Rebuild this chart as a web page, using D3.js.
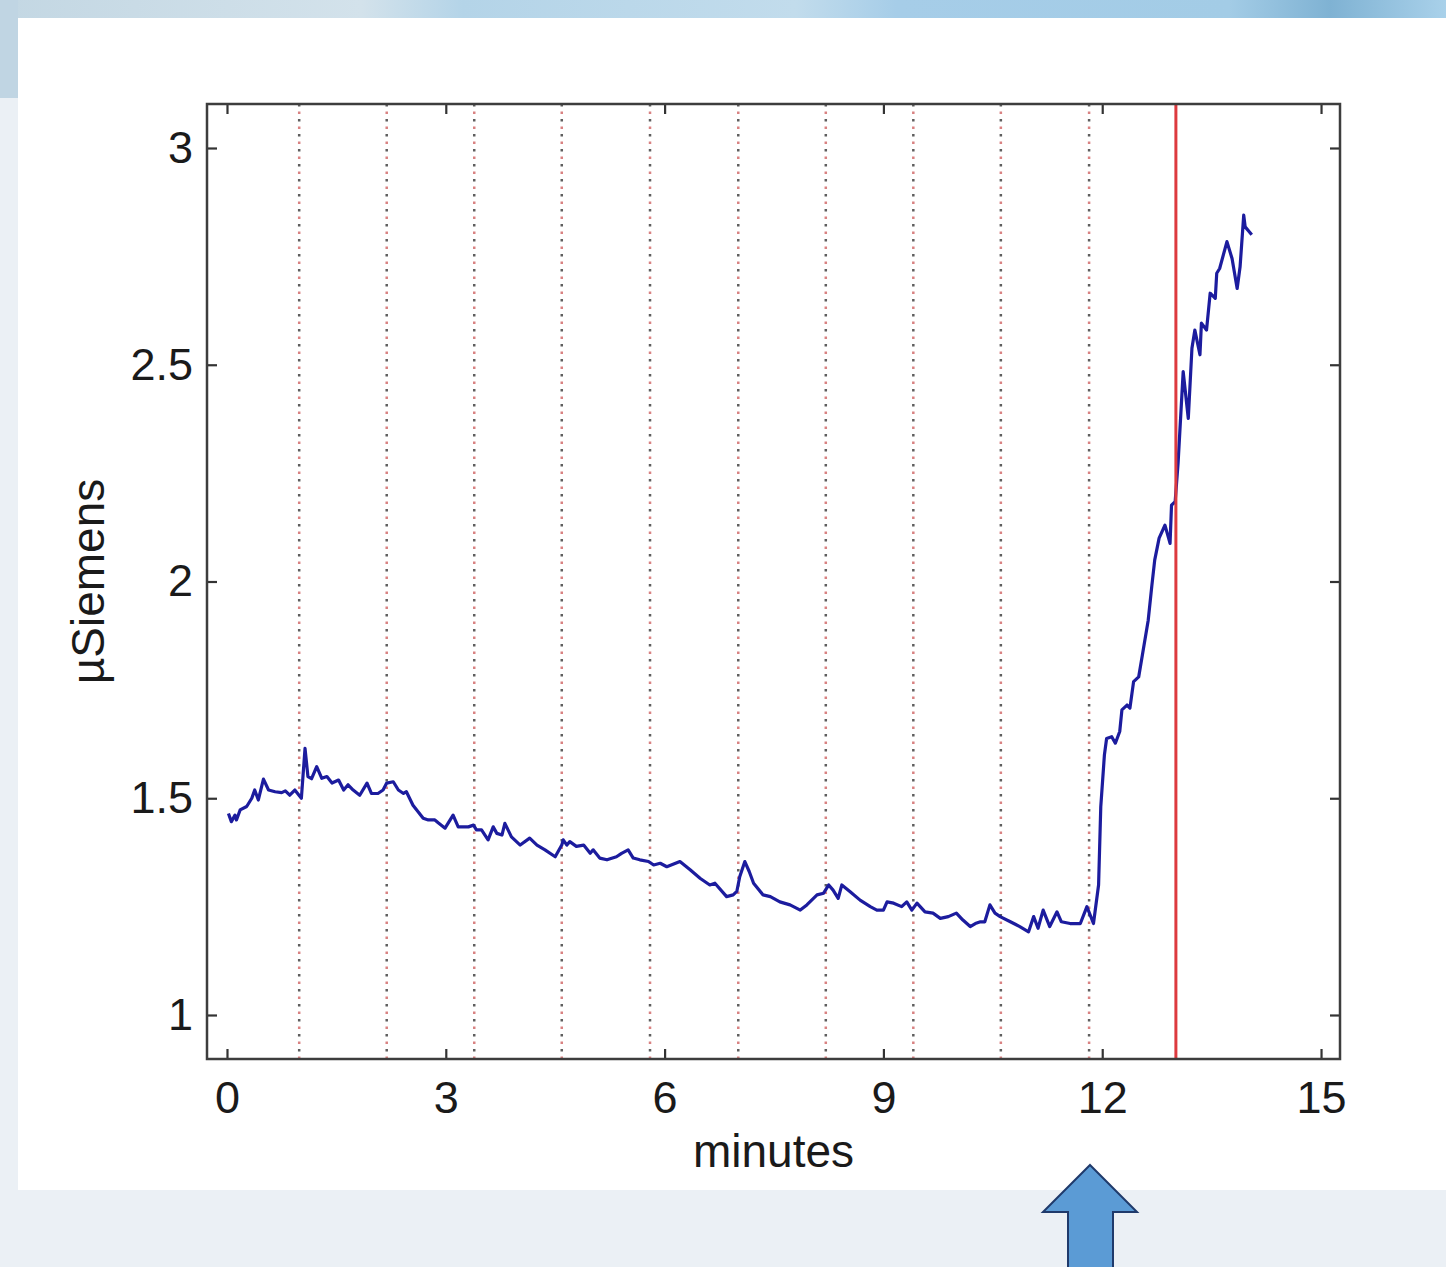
<!DOCTYPE html>
<html>
<head>
<meta charset="utf-8">
<script src="https://cdn.jsdelivr.net/npm/d3@7"></script>
<style>
  body { margin: 0; background: #ebf0f5; }
  svg { display: block; }
  .tick text { font-family: "Liberation Sans", Arial, sans-serif; font-size: 45px; fill: #1a1a1a; }
  .tick line { stroke: #333; stroke-width: 2.2; }
</style>
</head>
<body>
<script>
// skin conductance trace
var minutes = [0.02, 0.06, 0.11, 0.13, 0.18, 0.27, 0.34, 0.38, 0.43, 0.50, 0.57, 0.66, 0.75, 0.80, 0.86, 0.93, 1.02,
  1.07, 1.11, 1.16, 1.23, 1.30, 1.37, 1.44, 1.53, 1.60, 1.66, 1.73, 1.82, 1.92, 1.98, 2.07, 2.14, 2.19, 2.28, 2.35,
  2.42, 2.46, 2.55, 2.69, 2.76, 2.85, 2.90, 2.99, 3.10, 3.17, 3.24, 3.31, 3.38, 3.42, 3.49, 3.58, 3.65, 3.70, 3.77,
  3.81, 3.90, 4.02, 4.15, 4.25, 4.36, 4.50, 4.59, 4.61, 4.66, 4.70, 4.79, 4.89, 4.98, 5.02, 5.11, 5.21, 5.34, 5.41,
  5.50, 5.57, 5.66, 5.78, 5.85, 5.94, 6.03, 6.21, 6.35, 6.49, 6.62, 6.69, 6.85, 6.94, 6.99, 7.03, 7.10, 7.16, 7.22,
  7.35, 7.45, 7.58, 7.72, 7.86, 7.95, 8.09, 8.18, 8.25, 8.31, 8.38, 8.43, 8.54, 8.68, 8.82, 8.91, 9.00, 9.05, 9.14,
  9.25, 9.32, 9.39, 9.46, 9.57, 9.68, 9.78, 9.89, 10.00, 10.09, 10.19, 10.26, 10.33, 10.39, 10.46, 10.53, 10.60,
  10.74, 10.87, 10.99, 11.06, 11.12, 11.19, 11.28, 11.38, 11.44, 11.56, 11.70, 11.79, 11.88, 11.95, 11.98, 12.03,
  12.06, 12.13, 12.18, 12.24, 12.27, 12.34, 12.38, 12.43, 12.50, 12.55, 12.63, 12.68, 12.72, 12.78, 12.86, 12.93,
  12.95, 13.00, 13.04, 13.11, 13.18, 13.23, 13.27, 13.34, 13.36, 13.43, 13.48, 13.55, 13.57, 13.61, 13.71, 13.78,
  13.85, 13.89, 13.94, 13.96, 14.05];
var siemens = [1.465, 1.446, 1.461, 1.450, 1.473, 1.481, 1.500, 1.519, 1.496, 1.544, 1.519, 1.515, 1.513, 1.517, 1.507, 1.519, 1.500,
  1.615, 1.550, 1.545, 1.573, 1.546, 1.550, 1.535, 1.542, 1.519, 1.531, 1.519, 1.507, 1.535, 1.511, 1.511, 1.519, 1.535, 1.538, 1.519,
  1.511, 1.515, 1.484, 1.454, 1.450, 1.450, 1.443, 1.431, 1.461, 1.434, 1.434, 1.434, 1.438, 1.427, 1.427, 1.404, 1.434, 1.419, 1.415,
  1.442, 1.411, 1.392, 1.408, 1.392, 1.381, 1.365, 1.392, 1.404, 1.392, 1.400, 1.389, 1.392, 1.373, 1.381, 1.362, 1.358, 1.365, 1.373,
  1.381, 1.362, 1.358, 1.354, 1.346, 1.350, 1.342, 1.354, 1.335, 1.315, 1.300, 1.304, 1.273, 1.277, 1.285, 1.319, 1.354, 1.331, 1.304,
  1.277, 1.273, 1.261, 1.254, 1.242, 1.254, 1.277, 1.281, 1.300, 1.288, 1.269, 1.300, 1.285, 1.265, 1.250, 1.242, 1.242, 1.261, 1.258,
  1.250, 1.261, 1.242, 1.258, 1.238, 1.235, 1.223, 1.227, 1.235, 1.219, 1.204, 1.211, 1.215, 1.215, 1.254, 1.235, 1.227,
  1.215, 1.204, 1.192, 1.227, 1.200, 1.242, 1.204, 1.238, 1.215, 1.211, 1.211, 1.250, 1.211, 1.300, 1.480, 1.600,
  1.638, 1.642, 1.627, 1.654, 1.704, 1.715, 1.708, 1.769, 1.780, 1.830, 1.910, 1.990, 2.050, 2.100, 2.130, 2.088,
  2.176, 2.184, 2.273, 2.484, 2.376, 2.538, 2.580, 2.523, 2.596, 2.580, 2.665, 2.653, 2.711, 2.722, 2.784, 2.745,
  2.676, 2.726, 2.845, 2.818, 2.800];

var eventMinutes = [0.99, 2.19, 3.39, 4.59, 5.80, 7.01, 8.21, 9.41, 10.61, 11.82];
var stimulusMinute = 13.01;
var xTicks = [0, 3, 6, 9, 12, 15];
var yTicks = [1, 1.5, 2, 2.5, 3];

var width = 1446, height = 1267;
var margin = { top: 104, right: 106, bottom: 208, left: 207 };
var plotW = width - margin.left - margin.right,
  plotH = height - margin.top - margin.bottom;

var svg = d3.select("body").append("svg")
  .attr("width", width)
  .attr("height", height);

// page backdrop: blurred photo strip along the top and left, white slide panel
var defs = svg.append("defs");
var grad = defs.append("linearGradient").attr("id", "photo");
[["0%", "#c3d7e3"], ["25%", "#d3e2eb"], ["32%", "#b4d4e8"], ["55%", "#c2dcec"], ["62%", "#a6cde8"],
 ["85%", "#a3cce6"], ["92%", "#7fb2d3"], ["100%", "#a9d1ea"]].forEach(function(s) {
  grad.append("stop").attr("offset", s[0]).attr("stop-color", s[1]);
});
svg.append("rect").attr("width", width).attr("height", height).attr("fill", "#ebf0f5");
svg.append("rect").attr("width", width).attr("height", 18).attr("fill", "url(#photo)");
svg.append("rect").attr("width", 18).attr("height", 98).attr("fill", "#c0d5e3");
svg.append("rect").attr("x", 18).attr("y", 18).attr("width", width - 18).attr("height", 1172).attr("fill", "#fff");

var x = d3.scaleLinear().domain([-0.274, 15.26]).range([0, plotW]);
var y = d3.scaleLinear().domain([0.8985, 3.1015]).range([plotH, 0]);

var g = svg.append("g").attr("transform", "translate(" + margin.left + "," + margin.top + ")");

// dotted event markers (alternating dark / red dots)
var markers = g.append("g");
markers.selectAll(".ev-dark").data(eventMinutes).enter().append("line")
  .attr("x1", function(d) { return x(d); }).attr("x2", function(d) { return x(d); })
  .attr("y1", 0).attr("y2", plotH)
  .attr("stroke", "#5e5e5e").attr("stroke-width", 2.5)
  .attr("stroke-dasharray", "2.5,12.5");
markers.selectAll(".ev-red").data(eventMinutes).enter().append("line")
  .attr("x1", function(d) { return x(d); }).attr("x2", function(d) { return x(d); })
  .attr("y1", 0).attr("y2", plotH)
  .attr("stroke", "#d98282").attr("stroke-width", 2.5)
  .attr("stroke-dasharray", "2.5,12.5").attr("stroke-dashoffset", -7.5);

var trace = minutes.map(function(m, i) { return [m, siemens[i]]; });
var line = d3.line()
  .x(function(d) { return x(d[0]); })
  .y(function(d) { return y(d[1]); });

g.append("path")
  .datum(trace)
  .attr("d", line)
  .attr("fill", "none")
  .attr("stroke", "#1c1c9e")
  .attr("stroke-width", 3.2)
  .attr("stroke-linejoin", "round");

g.append("line")
  .attr("x1", x(stimulusMinute)).attr("x2", x(stimulusMinute))
  .attr("y1", 0).attr("y2", plotH)
  .attr("stroke", "#dd3a3f").attr("stroke-width", 3);

// matlab style box with inward ticks on every side
g.append("g").attr("transform", "translate(0," + plotH + ")")
  .call(d3.axisBottom(x).tickValues(xTicks).tickSizeInner(-10).tickSizeOuter(0).tickPadding(22))
  .call(function(a) { a.select(".domain").remove(); });
g.append("g")
  .call(d3.axisTop(x).tickValues(xTicks).tickSizeInner(-10).tickSizeOuter(0).tickFormat(""))
  .call(function(a) { a.select(".domain").remove(); });
g.append("g")
  .call(d3.axisLeft(y).tickValues(yTicks).tickSizeInner(-10).tickSizeOuter(0).tickPadding(14)
    .tickFormat(function(d) { return d3.format("~g")(d); }))
  .call(function(a) { a.select(".domain").remove(); });
g.append("g").attr("transform", "translate(" + plotW + ",0)")
  .call(d3.axisRight(y).tickValues(yTicks).tickSizeInner(-10).tickSizeOuter(0).tickFormat(""))
  .call(function(a) { a.select(".domain").remove(); });

g.append("rect")
  .attr("width", plotW).attr("height", plotH)
  .attr("fill", "none").attr("stroke", "#3d3d3d").attr("stroke-width", 2.5);

g.append("text")
  .attr("x", plotW / 2).attr("y", plotH + 108)
  .attr("text-anchor", "middle")
  .style("font-family", "'Liberation Sans', Arial, sans-serif")
  .style("font-size", "46px").style("fill", "#1a1a1a")
  .text("minutes");

g.append("text")
  .attr("transform", "translate(-103," + (plotH / 2) + ") rotate(-90)")
  .attr("text-anchor", "middle")
  .style("font-family", "'Liberation Sans', Arial, sans-serif")
  .style("font-size", "46px").style("fill", "#1a1a1a")
  .text("µSiemens");

// blue arrow pointing up under the 12 min tick
var ax = 1090, tipY = 1165;
var arrow = [[ax, tipY], [ax + 47, tipY + 47], [ax + 23, tipY + 47], [ax + 23, height + 5],
  [ax - 22, height + 5], [ax - 22, tipY + 47], [ax - 47, tipY + 47]];
svg.append("path")
  .attr("d", d3.line()(arrow) + "Z")
  .attr("fill", "#5b9bd5")
  .attr("stroke", "#1f3a6b")
  .attr("stroke-width", 2);
</script>
</body>
</html>
